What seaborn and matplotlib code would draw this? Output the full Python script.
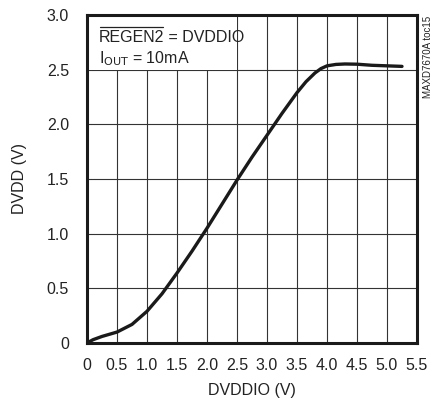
import matplotlib
matplotlib.use("Agg")
import pandas as pd
import seaborn as sns
from matplotlib import pyplot as plt
from matplotlib.lines import Line2D
from matplotlib.patches import Rectangle

# data
dvddio = [0.0, 0.1, 0.25, 0.5, 0.75, 1.0, 1.25, 1.5, 1.75, 2.0, 2.25, 2.5,
          2.75, 3.0, 3.25, 3.5, 3.65, 3.8, 3.9, 4.0, 4.15, 4.3, 4.5, 4.75, 5.0, 5.25]
dvdd = [0.0, 0.03, 0.06, 0.1, 0.17, 0.29, 0.45, 0.64, 0.84, 1.05, 1.27, 1.49,
        1.7, 1.9, 2.1, 2.29, 2.39, 2.47, 2.51, 2.535, 2.548, 2.552, 2.55, 2.54, 2.535, 2.53]

xticks = [0, 0.5, 1.0, 1.5, 2.0, 2.5, 3.0, 3.5, 4.0, 4.5, 5.0, 5.5]
xlabels = ["0", "0.5", "1.0", "1.5", "2.0", "2.5", "3.0", "3.5", "4.0", "4.5", "5.0", "5.5"]
yticks = [0, 0.5, 1.0, 1.5, 2.0, 2.5, 3.0]
ylabels = ["0", "0.5", "1.0", "1.5", "2.0", "2.5", "3.0"]

sns.set_style("white")
plt.rcParams['font.family'] = ['Liberation Sans', 'DejaVu Sans']

df = pd.DataFrame({"DVDDIO": dvddio, "DVDD": dvdd})

fig = plt.figure(figsize=(4.38, 4.05), dpi=100)
ax = fig.add_axes([87 / 438, 62 / 405, 330 / 438, 328 / 405])

sns.lineplot(x="DVDDIO", y="DVDD", data=df, ax=ax, color="#1a1a1a", linewidth=2.4, zorder=5)

ax.set_xlim(0, 5.5)
ax.set_ylim(0, 3.0)
ax.set_xticks(xticks)
ax.set_xticklabels(xlabels)
ax.set_yticks(yticks)
ax.set_yticklabels(ylabels)
ax.tick_params(axis="x", length=0, labelsize=11.5, colors="#222222", pad=11)
ax.tick_params(axis="y", length=0, labelsize=11.5, colors="#222222", pad=13)
ax.grid(True, color="#333333", linewidth=0.8)
for s in ax.spines.values():
    s.set_linewidth(2.2)
    s.set_color("#1a1a1a")
    s.set_visible(True)

ax.set_xlabel("DVDDIO (V)", fontsize=11.5, color="#222222", labelpad=7)
ax.set_ylabel("DVDD (V)", fontsize=11.5, color="#222222", labelpad=14)

# white box behind the annotation
ax.add_patch(Rectangle((0, 2.5), 2.5, 0.5, facecolor="white", edgecolor="none", zorder=2))
t1 = ax.text(0.2, 2.79, "REGEN2", fontsize=11.5, color="#222222", va="center", zorder=6)
ax.annotate(" = DVDDIO", xy=(1, 0.5), xycoords=t1, fontsize=11.5, color="#222222",
            va="center", zorder=6)
ax.text(0.2, 2.6, r"I$_{\mathrm{OUT}}$ = 10mA", fontsize=11.5, color="#222222",
        va="center", zorder=6)

# overline over REGEN2
fig.canvas.draw()
bb = t1.get_window_extent().transformed(fig.transFigure.inverted())
fig.add_artist(Line2D([bb.x0 + 0.002, bb.x1 - 0.002], [bb.y1 + 0.009, bb.y1 + 0.009],
                      color="#222222", linewidth=0.9, transform=fig.transFigure))

fig.text(428 / 438, 1 - 16 / 405, "MAXD7670A toc15", rotation=90, fontsize=7,
         color="#222222", ha="center", va="top")

plt.savefig("out.png", dpi=100)
